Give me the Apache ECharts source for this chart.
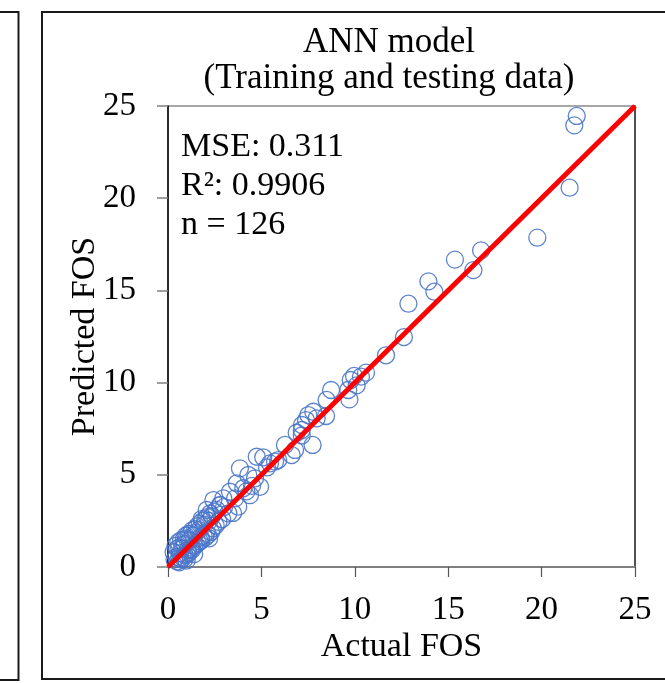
<!DOCTYPE html>
<html>
<head>
<meta charset="utf-8">
<script src="https://cdn.jsdelivr.net/npm/echarts@6/dist/echarts.min.js"></script>
<style>html,body{margin:0;padding:0;background:#fff}#c{width:665px;height:683px}</style>
</head>
<body>
<div id="c"></div>
<script>
const titleLines = ['ANN model', '(Training and testing data)'];
const xName = 'Actual FOS';
const yName = 'Predicted FOS';
const statsText = ['MSE: 0.311', 'R\u00b2: 0.9906', 'n = 126'];
const axisTicks = [0, 5, 10, 15, 20, 25];

const actualHigh = [21.88, 21.75, 21.5, 19.77, 16.76, 16.35, 15.36, 14.26, 13.94, 12.87, 12.63,
  11.67, 10.6, 10.33, 9.96, 9.78, 9.71, 9.65, 8.73, 8.49, 8.46, 7.78, 7.51, 7.39, 7.96, 7.74, 7.16, 6.89, 7.16, 6.26, 6.62, 10.1];
const predictedHigh = [24.46, 23.95, 20.57, 17.86, 17.17, 16.1, 16.67, 14.93, 15.49, 14.28, 12.47,
  11.48, 10.54, 10.32, 10.36, 10.14, 9.09, 9.6, 9.6, 9.06, 8.19, 8.42, 8.24, 7.97, 8.06, 6.62, 7.43, 7.28, 7.13, 6.62, 6.07, 9.85];

const actualMid = [7.17, 6.8, 5.1, 4.75, 5.46, 5.73, 3.85, 4.3, 4.66, 3.68, 3.32, 4.03, 4.93, 2.96, 3.59, 2.43, 2.78, 3.76, 2.07, 3.23,
  4.2, 4.5, 5.3, 5.9, 4.39, 3.48];
const predictedMid = [7.7, 6.35, 5.95, 5.98, 5.62, 5.71, 5.35, 4.99, 4.81, 4.54, 4.08, 4.27, 4.35, 3.72, 3.72, 3.63, 3.36, 3.27, 3.09, 2.91,
  4.1, 4.4, 5.4, 5.8, 3.9, 2.93];

const actualLow = [0.3, 0.35, 0.4, 0.45, 0.5, 0.5, 0.55, 0.6, 0.6, 0.65,
  0.7, 0.7, 0.75, 0.8, 0.8, 0.85, 0.9, 0.9, 0.95, 1.0,
  1.0, 1.05, 1.1, 1.1, 1.15, 1.2, 1.2, 1.25, 1.3, 1.3,
  1.35, 1.4, 1.45, 1.5, 1.5, 1.55, 1.6, 1.65, 1.7, 1.7,
  1.75, 1.8, 1.85, 1.9, 1.95, 2.0, 2.0, 2.05, 2.1, 2.15,
  2.2, 2.25, 2.3, 2.35, 2.4, 2.5, 2.55, 2.6, 2.7, 2.8,
  2.9, 3.0, 1.0, 0.6, 1.4, 2.2, 1.8, 0.9];
const predictedLow = [0.8, 0.4, 1.15, 0.55, 1.0, 0.3, 1.35, 0.5, 1.05, 0.75,
  1.45, 0.4, 1.0, 1.2, 0.5, 1.5, 0.65, 1.25, 1.7, 0.7,
  1.55, 0.9, 1.8, 0.75, 1.45, 0.95, 1.8, 1.05, 2.0, 0.95,
  1.7, 1.15, 2.05, 1.2, 1.85, 2.2, 1.3, 2.0, 1.4, 2.35,
  1.6, 1.45, 2.5, 1.7, 2.3, 1.6, 2.6, 1.85, 2.7, 1.75,
  2.5, 2.9, 1.9, 2.75, 2.1, 3.0, 2.25, 3.1, 2.45, 3.35,
  2.6, 3.25, 0.35, 0.25, 0.7, 1.55, 2.6, 0.45];

const lineX = [0, 25];
const lineY = [0, 25];

const actual = actualHigh.concat(actualMid, actualLow);
const predicted = predictedHigh.concat(predictedMid, predictedLow);
const scatterData = actual.map((v, i) => [v, predicted[i]]);
const lineData = lineX.map((v, i) => [v, lineY[i]]);

const FONT = 'Liberation Serif';
const chart = echarts.init(document.getElementById('c'), null, {renderer: 'canvas'});
chart.setOption({
  animation: false,
  backgroundColor: '#fff',
  title: {
    text: titleLines.join('\n'),
    left: 384, top: 20, textAlign: 'center',
    textStyle: {fontFamily: FONT, fontSize: 35, fontWeight: 'normal', color: '#000', lineHeight: 36}
  },
  grid: {left: 168, right: 30, top: 106, bottom: 116, show: true, borderColor: '#8a8a8a', borderWidth: 1.5, containLabel: false},
  xAxis: {
    type: 'value', min: axisTicks[0], max: axisTicks[axisTicks.length - 1], interval: 5,
    name: xName, nameLocation: 'middle', nameGap: 63, nameMoveOverlap: false,
    nameTextStyle: {fontFamily: FONT, fontSize: 34, color: '#000'},
    axisLine: {show: true, onZero: false, lineStyle: {color: '#7f7f7f', width: 2}},
    axisTick: {show: true, inside: false, length: 10, lineStyle: {color: '#555', width: 1.2}},
    axisLabel: {fontFamily: FONT, fontSize: 33, color: '#000', margin: 27},
    splitLine: {show: false}
  },
  yAxis: [{
    type: 'value', min: axisTicks[0], max: axisTicks[axisTicks.length - 1], interval: 5,
    name: yName, nameLocation: 'middle', nameGap: 66, nameRotate: 90, nameMoveOverlap: false,
    nameTextStyle: {fontFamily: FONT, fontSize: 34, color: '#000'},
    axisLine: {show: true, onZero: false, lineStyle: {color: '#000', width: 1.5}},
    axisTick: {show: true, inside: false, length: 11, lineStyle: {color: '#7f7f7f', width: 1.5}},
    axisLabel: {fontFamily: FONT, fontSize: 33, color: '#000', margin: 32},
    splitLine: {show: false}
  }, {
    type: 'value', position: 'right', min: 0, max: 25,
    axisLine: {show: true, onZero: false, lineStyle: {color: '#333', width: 1.5}},
    axisTick: {show: false}, axisLabel: {show: false}, splitLine: {show: false}
  }],
  graphic: [
    {type: 'rect', shape: {x: 42, y: 12, width: 640, height: 667}, style: {fill: 'none', stroke: '#1a1a1a', lineWidth: 2}, z: 100},
    {type: 'polyline', shape: {points: [[-5, 12], [18.5, 12], [18.5, 680], [-5, 680]]}, style: {fill: 'none', stroke: '#1a1a1a', lineWidth: 2}, z: 100},
    {type: 'text', left: 181, top: 128, style: {text: statsText.join('\n'), font: '34px "Liberation Serif"', fill: '#000', lineHeight: 39}, z: 100}
  ],
  series: [{
    type: 'scatter', data: scatterData, symbol: 'circle', symbolSize: 17, z: 2,
    itemStyle: {color: 'rgba(0,0,0,0)', borderColor: '#4a76c9', borderWidth: 1.3, opacity: 0.9}
  }, {
    type: 'line', data: lineData, symbol: 'none', z: 3,
    lineStyle: {color: '#ff0000', width: 5}
  }]
});
</script>
</body>
</html>
